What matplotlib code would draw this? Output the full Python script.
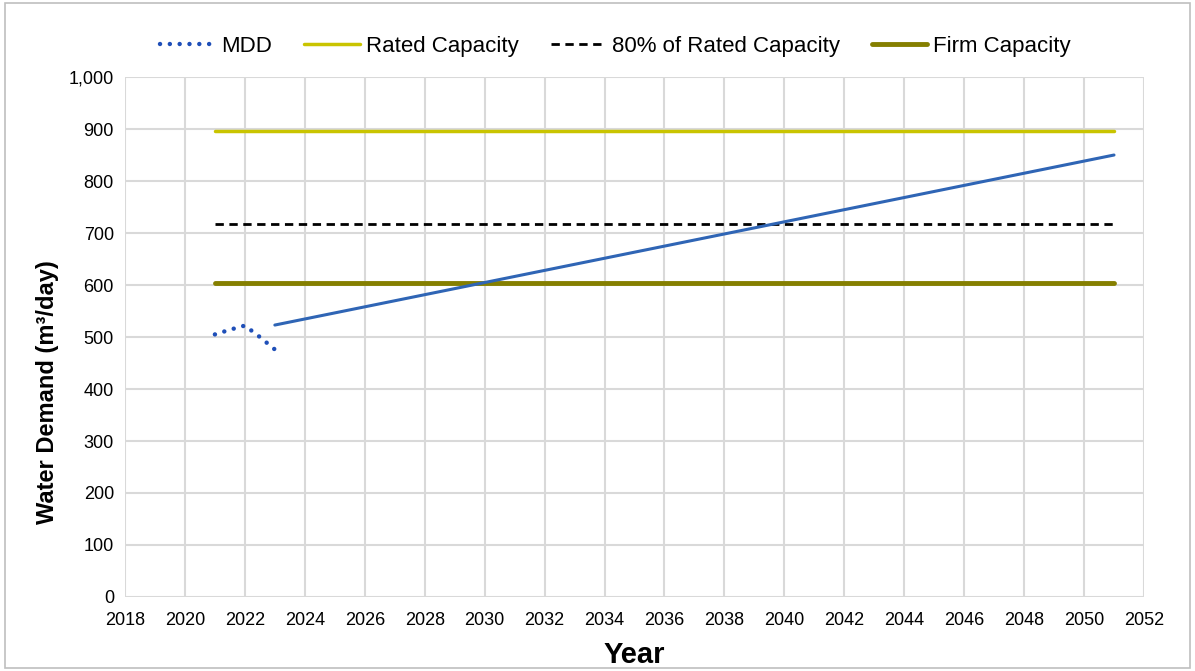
import matplotlib
matplotlib.use("Agg")
import matplotlib.pyplot as plt
from matplotlib.patches import Rectangle

plt.rcParams['font.family'] = ['Liberation Sans', 'DejaVu Sans']

# Observed maximum day demand
mdd_years = [2021, 2021.5, 2022, 2022.5, 2023]
mdd_values = [505, 514, 522, 500, 476]

# Projected demand
proj_years = [2023, 2051]
proj_values = [523, 850]

# Capacity lines
cap_years = [2021, 2051]
rated_capacity = 897
rated_80 = 0.8 * rated_capacity
firm_capacity = 603

xticks = list(range(2018, 2053, 2))
yticks = list(range(0, 1001, 100))

fig = plt.figure(figsize=(11.95, 6.71), dpi=100)
ax = fig.add_axes([0.1046, 0.1103, 0.8527, 0.7749])

grid_c = '#D9D9D9'
ax.set_xlim(2018, 2052)
ax.set_ylim(0, 1000)
ax.set_xticks(xticks)
ax.set_yticks(yticks)
ax.set_yticklabels([f"{v:,}" for v in yticks])
ax.grid(True, color=grid_c, linewidth=1.5)
ax.set_axisbelow(True)
for s in ax.spines.values():
    s.set_visible(False)
ax.tick_params(length=0, labelsize=13, colors='#000000')
ax.tick_params(axis='x', pad=11)
ax.tick_params(axis='y', pad=8)

ax.plot(cap_years, [rated_capacity] * 2, color='#C9C400', lw=2.5,
        solid_capstyle='round', label='Rated Capacity')
ax.plot(cap_years, [rated_80] * 2, color='black', lw=2, ls=(0, (3, 2)),
        label='80% of Rated Capacity')
ax.plot(cap_years, [firm_capacity] * 2, color='#857F00', lw=3.5,
        solid_capstyle='round', label='Firm Capacity')
ax.plot(proj_years, proj_values, color='#2F65B5', lw=2.2,
        solid_capstyle='round')
ax.plot(mdd_years, mdd_values, color='#1F4FB8', lw=3.2, ls=(0, (0.01, 2.2)),
        dash_capstyle='round', label='MDD')

handles, labels = ax.get_legend_handles_labels()
order = [3, 0, 1, 2]
fig.legend([handles[i] for i in order], [labels[i] for i in order],
           loc='center', bbox_to_anchor=(0.515, 0.931), ncol=4, frameon=False,
           fontsize=16, handlelength=2.5, handletextpad=0.25, columnspacing=1.45)

ax.set_xlabel('Year', fontsize=21, fontweight='bold', va='center')
ax.xaxis.set_label_coords(0.5, -0.1115)
ax.set_ylabel('Water Demand (m³/day)', fontsize=17, fontweight='bold',
              va='center')
ax.yaxis.set_label_coords(-0.0765, 0.394)

fig.patches.append(Rectangle((0.004, 0.004), 0.992, 0.992, transform=fig.transFigure,
                             fill=False, edgecolor='#BFBFBF', lw=1.2))

fig.savefig('out.png', dpi=100)
